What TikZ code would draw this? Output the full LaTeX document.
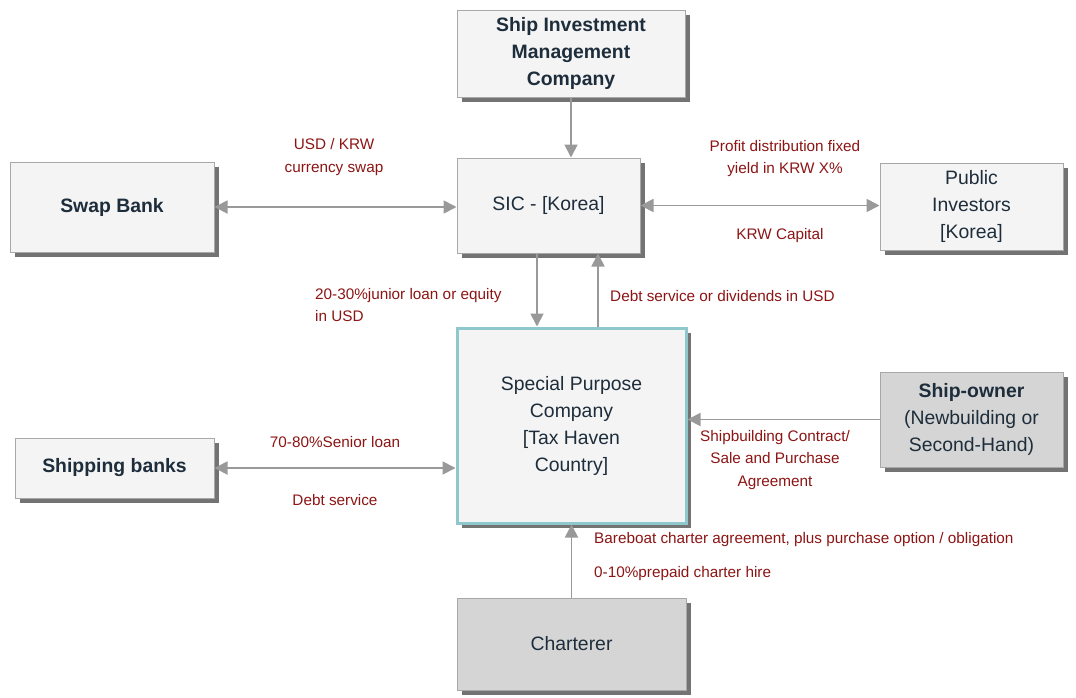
\documentclass[tikz,border=0pt]{standalone}
\usepackage{fontspec}
\setmainfont{Liberation Sans}
\usetikzlibrary{arrows.meta,shadows,calc}

\definecolor{boxfill}{HTML}{F4F4F4}
\definecolor{boxline}{HTML}{A8A8A8}
\definecolor{darkfill}{HTML}{D5D5D5}
\definecolor{tealline}{HTML}{8FC8CC}
\definecolor{flowgray}{HTML}{999999}
\definecolor{labelred}{HTML}{8C1414}
\definecolor{boxtext}{HTML}{1E2D3B}

\tikzset{
  party/.style={draw=boxline, fill=boxfill, line width=1pt, inner sep=0pt, align=center,
    text=boxtext, font=\fontsize{19.4}{27}\selectfont,
    drop shadow={shadow xshift=5pt, shadow yshift=-5pt, fill=black!55, opacity=1}},
  flow/.style={draw=flowgray, line width=1.8pt, -{Triangle[length=13pt,width=13pt]}},
  twoway/.style={flow, {Triangle[length=13pt,width=13pt]}-{Triangle[length=13pt,width=13pt]}},
  note/.style={text=labelred, font=\fontsize{15.3}{22.5}\selectfont, inner sep=0pt, align=center}
}

\begin{document}
\begin{tikzpicture}[x=1pt, y=-1pt]

    \useasboundingbox (0,0) rectangle (1076,697);

    % Parties
    \node[party, font=\fontsize{19.4}{27}\selectfont\bfseries, minimum width=228pt, minimum height=87pt] (simc) at (571,53.5) {Ship Investment\\Management\\Company};
    \node[party, font=\fontsize{19.4}{27}\selectfont\bfseries, minimum width=204pt, minimum height=90pt] (swap) at (112,207) {Swap Bank};
    \node[party, minimum width=183pt, minimum height=95pt] (sic) at (548.5,205.5) {SIC - [Korea]};
    \node[party, minimum width=183pt, minimum height=87pt] (pub) at (971.5,206.5) {Public\\Investors\\{[Korea]}};

    \node[party, draw=tealline, line width=3pt, minimum width=229pt, minimum height=195pt] (spc) at (571.5,425.5) {Special Purpose\\Company\\{[Tax Haven}\\Country]};
    \node[party, font=\fontsize{19.4}{27}\selectfont\bfseries, minimum width=199pt, minimum height=60pt] (banks) at (114.5,468) {Shipping banks};
    \node[party, fill=darkfill, font=\fontsize{19.4}{27}\selectfont\bfseries, minimum width=183pt, minimum height=95pt] (owner) at (971.5,419.5) {Ship-owner\\{\mdseries (Newbuilding or}\\{\mdseries Second-Hand)}};
    \node[party, fill=darkfill, minimum width=229pt, minimum height=92pt] (charterer) at (571.5,644) {Charterer};

    % Labels
    \node[note] (swaptxt) at (334,157) {USD / KRW\\currency swap};
    \node[note] (yieldtxt) at (785,158.5) {Profit distribution fixed\\yield in KRW X\%};
    \node[note] (capitaltxt) at (780,236) {KRW Capital};
    \node[note, anchor=west, align=left] (juniortxt) at (315,305) {20-30\%junior loan or equity\\in USD};
    \node[note, anchor=west, align=left] (dividendtxt) at (610,296) {Debt service or dividends in USD};
    \node[note] (seniortxt) at (335,442) {70-80\%Senior loan};
    \node[note] (debttxt) at (335,500) {Debt service};
    \node[note] (contracttxt) at (775,460) {Shipbuilding Contract/\\Sale and Purchase\\Agreement};
    \node[note, anchor=west, align=left] (bareboattxt) at (594,540) {Bareboat charter agreement, plus purchase option / obligation};
    \node[note, anchor=west, align=left] (prepaidtxt) at (594,574) {0-10\%prepaid charter hire};

    % Connections to the SIC
    \draw[flow] (simc.south) -- (simc.south |- sic.north);
    \draw[twoway] (swap.east) -- (swap.east -| sic.west);
    \draw[twoway] (sic.east) -- (sic.east -| pub.west);

    % SIC and SPC
    \coordinate (loanout) at ($(sic.south)+(-11.5,0)$);
    \coordinate (dividendin) at ($(sic.south)+(49.5,0)$);
    \draw[flow] (loanout) -- (loanout |- spc.north);
    \draw[flow] (dividendin |- spc.north) -- (dividendin);

    % Connections to the SPC
    \draw[twoway] (banks.east) -- (banks.east -| spc.west);
    \draw[flow] (owner.west) -- (owner.west -| spc.east);
    \draw[flow] (charterer.north) -- (charterer.north |- spc.south);

\end{tikzpicture}
\end{document}
